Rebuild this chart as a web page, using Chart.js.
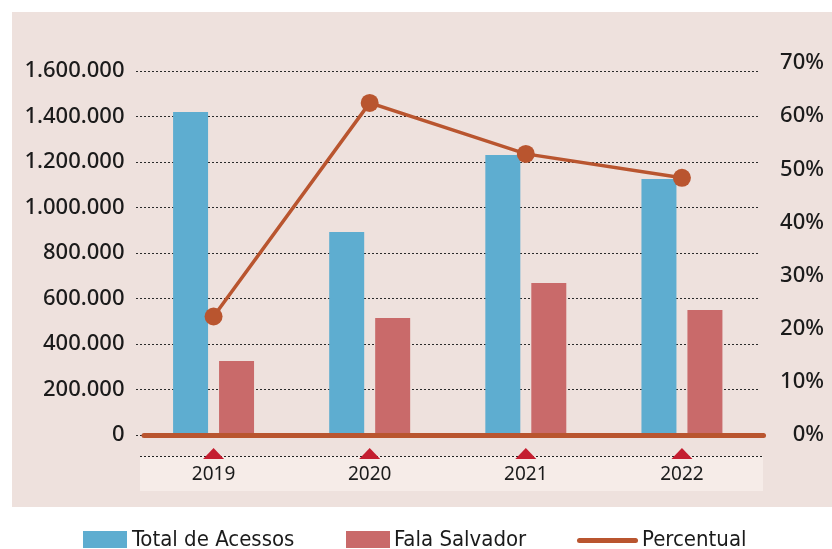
<!DOCTYPE html>
<html>
<head>
<meta charset="utf-8">
<script src="https://cdn.jsdelivr.net/npm/chart.js@4.4.1/dist/chart.umd.min.js"></script>
<style>
  body { margin: 0; background: #fff; }
  #wrap { position: relative; width: 832px; height: 549px; }
  .leg { position: absolute; top: 528px; height: 22px; display: flex; align-items: flex-start;
         font-family: "DejaVu Sans Condensed", "Liberation Sans Narrow", "DejaVu Sans", sans-serif;
         font-stretch: condensed; font-size: 22px; line-height: 22px; color: #1b1b1b; white-space: nowrap; }
  .sw { width: 44px; height: 17px; margin-top: 3px; margin-right: 5px; }
  .ln { width: 61px; height: 5px; border-radius: 3px; margin-top: 10px; margin-right: 4px; }
</style>
</head>
<body>
<div id="wrap">
  <canvas id="chart"></canvas>
  <div class="leg" style="left:83px"><div class="sw" style="background:#5eadd0"></div>Total de Acessos</div>
  <div class="leg" style="left:346px"><div class="sw" style="background:#c96a6a;margin-right:4px"></div>Fala Salvador</div>
  <div class="leg" style="left:577px"><div class="ln" style="background:#b9552f"></div>Percentual</div>
</div>
<script>
// dados
const years = ['2019', '2020', '2021', '2022'];
const totalAcessos = [1420000, 892000, 1231000, 1125000];
const falaSalvador = [325000, 514000, 668000, 549000];
const percentual = [22.3, 62.5, 52.9, 48.4];
const leftTicks = [0, 200000, 400000, 600000, 800000, 1000000, 1200000, 1400000, 1600000];
const rightTicks = [0, 10, 20, 30, 40, 50, 60, 70];

const azul = '#5eadd0';
const rosa = '#c96a6a';
const laranja = '#b9552f';

function fmt(v) {
    return String(v).replace(/\B(?=(\d{3})+(?!\d))/g, '.');
}

// fundo, faixa dos anos, triangulos
const decor = {
    id: 'decor',
    beforeDraw(chart) {
        const c = chart.ctx;
        const a = chart.chartArea;
        c.save();
        c.fillStyle = '#eee1dd';
        c.fillRect(12, 12, 820, 495);
        c.fillStyle = '#f6ece8';
        c.fillRect(a.left + 4.5, 456, a.right - a.left - 1.5, 35);
        c.strokeStyle = '#222';
        c.lineWidth = 1;
        c.setLineDash([2, 2]);
        c.beginPath();
        c.moveTo(a.left + 4.5, 456.5);
        c.lineTo(a.right + 3, 456.5);
        c.stroke();
        c.setLineDash([]);
        c.fillStyle = '#c41e30';
        years.forEach((y, i) => {
            const x = chart.scales.x.getPixelForValue(i);
            c.beginPath();
            c.moveTo(x - 10.5, 459);
            c.lineTo(x + 10.5, 459);
            c.lineTo(x, 448);
            c.closePath();
            c.fill();
        });
        c.restore();
    },
    afterDatasetsDraw(chart) {
        const c = chart.ctx;
        const a = chart.chartArea;
        const y0 = chart.scales.y.getPixelForValue(0);
        c.save();
        c.strokeStyle = laranja;
        c.lineWidth = 5;
        c.lineCap = 'round';
        c.beginPath();
        c.moveTo(a.left + 8.5, y0 + 0.5);
        c.lineTo(a.right + 3.5, y0 + 0.5);
        c.stroke();
        c.restore();
    }
};

const ctx = document.getElementById('chart');
new Chart(ctx, {
    type: 'bar',
    data: {
        labels: years,
        datasets: [
            {
                type: 'line',
                label: 'Percentual',
                data: percentual,
                yAxisID: 'y1',
                borderColor: laranja,
                backgroundColor: laranja,
                borderWidth: 3.5,
                pointRadius: 9,
                pointBorderWidth: 0,
                pointBackgroundColor: laranja,
                order: 0
            },
            {
                label: 'Total de Acessos',
                data: totalAcessos,
                backgroundColor: azul,
                categoryPercentage: 0.589,
                barPercentage: 0.761,
                order: 1
            },
            {
                label: 'Fala Salvador',
                data: falaSalvador,
                backgroundColor: rosa,
                categoryPercentage: 0.589,
                barPercentage: 0.761,
                order: 1
            }
        ]
    },
    options: {
        responsive: true,
        maintainAspectRatio: false,
        animation: false,
        layout: { padding: { top: 71, left: 0, right: 8, bottom: 0 } },
        plugins: {
            legend: { display: false },
            tooltip: { enabled: false }
        },
        scales: {
            x: {
                grid: { display: false, drawTicks: false },
                border: { display: false },
                ticks: {
                    padding: 28,
                    color: '#1b1b1b',
                    font: { family: 'Noto Sans', size: 19 }
                },
                afterFit(s) { s.height = 114; }
            },
            y: {
                position: 'left',
                min: 0,
                max: 1600000,
                afterBuildTicks(s) { s.ticks = leftTicks.map(v => ({ value: v })); },
                grid: { color: '#2a2a2a', lineWidth: 1, drawTicks: false },
                border: { display: false, dash: [2, 2] },
                ticks: {
                    padding: 11,
                    color: '#1b1b1b',
                    font: { family: 'Noto Sans', size: 22, weight: '500' },
                    callback: v => fmt(v)
                },
                afterFit(s) { s.width = 135.5; }
            },
            y1: {
                position: 'right',
                min: 0,
                max: 68.5,
                afterBuildTicks(s) { s.ticks = rightTicks.map(v => ({ value: v })); },
                grid: { display: false, drawTicks: false },
                border: { display: false },
                ticks: {
                    padding: 13,
                    crossAlign: 'far',
                    color: '#1b1b1b',
                    font: { family: 'Noto Sans', size: 22, weight: '500' },
                    callback: v => v + '%'
                },
                afterFit(s) { s.width = 64; }
            }
        }
    },
    plugins: [decor]
});
</script>
</body>
</html>
